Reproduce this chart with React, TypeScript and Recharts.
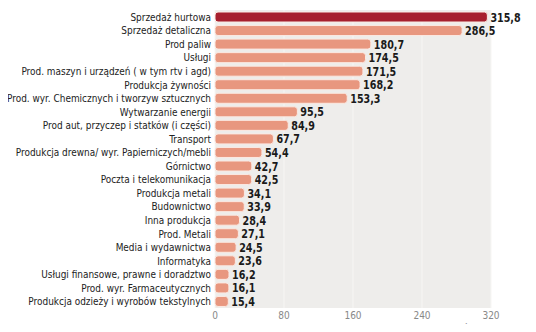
import { BarChart, Bar, XAxis, YAxis, CartesianGrid, Cell, LabelList } from "recharts";

const categories = [
  "Sprzedaż hurtowa",
  "Sprzedaż detaliczna",
  "Prod paliw",
  "Usługi",
  "Prod. maszyn i urządzeń ( w tym rtv i agd)",
  "Produkcja żywności",
  "Prod. wyr. Chemicznych i tworzyw sztucznych",
  "Wytwarzanie energii",
  "Prod aut, przyczep i statków (i części)",
  "Transport",
  "Produkcja drewna/ wyr. Papierniczych/mebli",
  "Górnictwo",
  "Poczta i telekomunikacja",
  "Produkcja metali",
  "Budownictwo",
  "Inna produkcja",
  "Prod. Metali",
  "Media i wydawnictwa",
  "Informatyka",
  "Usługi finansowe, prawne i doradztwo",
  "Prod. wyr. Farmaceutycznych",
  "Produkcja odzieży i wyrobów tekstylnych",
];

const revenue = [
  315.8, 286.5, 180.7, 174.5, 171.5, 168.2, 153.3, 95.5, 84.9, 67.7, 54.4, 42.7,
  42.5, 34.1, 33.9, 28.4, 27.1, 24.5, 23.6, 16.2, 16.1, 15.4,
];

const xTicks = [0, 80, 160, 240, 320];

const data = categories.map((name, i) => ({ name, value: revenue[i] }));

const narrow = "'DejaVu Sans Condensed', 'Liberation Sans Narrow', sans-serif";

// plain svg text, squeezed horizontally to get the narrow newspaper look
const CategoryTick = (props: any) => {
  const { x, y, payload } = props;
  return (
    <text
      transform={`translate(${x - 1},${y}) scale(0.88,1)`}
      dy={4}
      textAnchor="end"
      fontSize={11.3}
      fill="#222"
      fontFamily={narrow}
    >
      {payload.value}
    </text>
  );
};

const ValueLabel = (props: any) => {
  const { x, y, width, height, value } = props;
  const lx = x + width + 3;
  const ly = y + height / 2;
  return (
    <text
      transform={`translate(${lx},${ly}) scale(0.82,1)`}
      dy={4.5}
      fontSize={13}
      fontWeight="bold"
      fill="#1a1a1a"
      fontFamily={narrow}
    >
      {Number(value).toFixed(1).replace(".", ",")}
    </text>
  );
};

export default function App() {
  return (
    <div style={{ position: "relative", width: 536, height: 332, margin: -8, overflow: "hidden", background: "#fff" }}>
      <div
        style={{
          position: "absolute",
          left: 0,
          top: -11,
          fontFamily: narrow,
          fontSize: 13,
          color: "#111",
          whiteSpace: "nowrap",
        }}
      >
        <b>Przychody firm z sektorów,</b> <span style={{ color: "#555" }}>w mld zł</span>
      </div>
      <BarChart
        width={536}
        height={332}
        data={data}
        layout="vertical"
        margin={{ top: 10, right: 45, bottom: 8, left: 0 }}
        barCategoryGap={2}
      >
        <CartesianGrid horizontal={false} stroke="#f7f6f4" fill="#eeedeb" strokeWidth={1} />
        <XAxis
          type="number"
          domain={[0, 320]}
          ticks={xTicks}
          axisLine={false}
          tickLine={false}
          tickSize={0}
          tickMargin={4}
          height={16}
          tick={{ fontSize: 10, fill: "#888", fontFamily: narrow }}
        />
        <YAxis
          type="category"
          dataKey="name"
          width={215}
          axisLine={false}
          tickLine={false}
          tickSize={0}
          tickMargin={3}
          interval={0}
          tick={<CategoryTick />}
        />
        <Bar
          dataKey="value"
          barSize={10}
          radius={3}
          stroke="#fbe9e2"
          strokeWidth={1}
          isAnimationActive={false}
        >
          {data.map((_, i) => (
            <Cell key={`c-${i}`} fill={i === 0 ? "#a61f2e" : "#e8977f"} />
          ))}
          <LabelList dataKey="value" content={<ValueLabel />} />
        </Bar>
      </BarChart>
      <div
        style={{
          position: "absolute",
          left: 463,
          top: 324,
          fontFamily: narrow,
          fontSize: 10,
          color: "#777",
          whiteSpace: "nowrap",
        }}
      >
        Źródło: Lista 2000
      </div>
    </div>
  );
}
